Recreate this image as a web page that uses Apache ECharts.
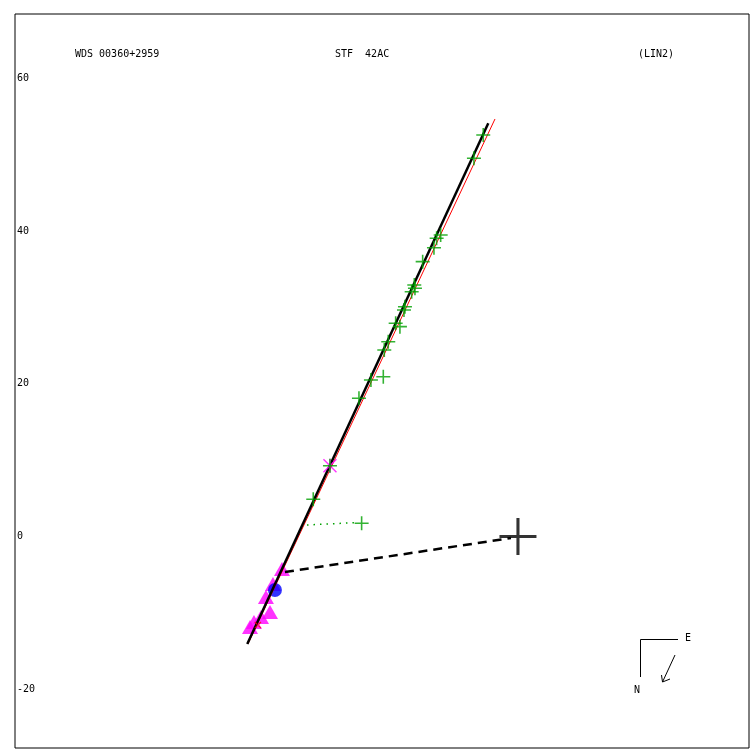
<!DOCTYPE html>
<html><head><meta charset="utf-8">
<script src="https://cdn.jsdelivr.net/npm/echarts@6/dist/echarts.min.js"></script>
<style>html,body{margin:0;padding:0;background:#fff}#c{width:750px;height:750px}</style>
</head><body><div id="c"></div>
<script>
// Axis range (data units)
const xRange = [-65.92, 30.28];
const yRange = [-27.72, 68.48];
const yTicks = [-20, 0, 20, 40, 60];

// Observations (green crosses)
const obsX = [-4.55,-5.77,-10.13,-10.66,-11.01,-12.49,-13.59,-13.50,-13.93,-14.81,-14.94,-16.03,-15.47,-17.00,-17.52,-17.65,-19.27,-20.84,-24.64,-26.83,-20.49];
const obsY = [52.62,49.57,39.52,39.08,37.85,36.02,32.96,32.53,32.08,30.12,29.69,27.94,27.50,25.53,24.44,20.94,20.51,18.11,9.28,4.88,1.73];

// Magenta asterisk
const starX = [-24.64];
const starY = [9.28];

// Magenta triangles
const triX = [-30.93,-32.11,-33.03,-32.50,-33.68,-34.60,-35.12];
const triY = [-4.26,-6.23,-7.93,-9.90,-10.55,-11.21,-11.86];

// Blue circle
const circX = [-31.85];
const circY = [-7.01];

// Small red mark
const redX = [-34.08];
const redY = [-11.60];

// Fitted lines
const blackLineX = [-35.48, -3.89];
const blackLineY = [-14.09, 54.15];
const redLineX = [-35.39, -3.01];
const redLineY = [-14.09, 54.72];

// Dashed link to primary
const dashX = [-30.54, -0.92];
const dashY = [-4.65, -0.20];

// Dotted green link
const dotX = [-27.65, -20.97];
const dotY = [1.51, 1.83];

// Primary
const primX = [0];
const primY = [0];

const zip = (a, b) => a.map((v, i) => [v, b[i]]);
const mono = 'DejaVu Sans Mono';
const GREEN = '#00a000';

const chart = echarts.init(document.getElementById('c'), null, {renderer: 'canvas'});
chart.setOption({
  animation: false,
  backgroundColor: '#fff',
  grid: {left: 15, top: 14, width: 734, height: 734, show: true, borderColor: '#000', borderWidth: 1, backgroundColor: 'transparent'},
  xAxis: {type: 'value', min: xRange[0], max: xRange[1], show: true,
    axisLine: {show: false}, axisTick: {show: false}, axisLabel: {show: false}, splitLine: {show: false}},
  yAxis: {type: 'value', min: yRange[0], max: yRange[1],
    axisLine: {show: false}, axisTick: {show: false}, splitLine: {show: false},
    axisLabel: {show: true, inside: true, margin: 2, customValues: yTicks, color: '#000', fontFamily: mono, fontSize: 10}},
  graphic: [
    {type: 'text', left: 75, top: 49, style: {text: 'WDS 00360+2959', font: '10px ' + mono, fill: '#000'}},
    {type: 'text', left: 335, top: 49, style: {text: 'STF  42AC', font: '10px ' + mono, fill: '#000'}},
    {type: 'text', left: 638, top: 49, style: {text: '(LIN2)', font: '10px ' + mono, fill: '#000'}},
    {type: 'polyline', shape: {points: [[678, 639.5], [640.5, 639.5], [640.5, 677]]}, style: {stroke: '#000', lineWidth: 1, fill: null}},
    {type: 'text', left: 685, top: 633, style: {text: 'E', font: '10px ' + mono, fill: '#000'}},
    {type: 'text', left: 634, top: 685, style: {text: 'N', font: '10px ' + mono, fill: '#000'}},
    {type: 'polyline', shape: {points: [[675, 655], [662.5, 682]]}, style: {stroke: '#000', lineWidth: 1, fill: null}},
    {type: 'polyline', shape: {points: [[661.5, 675], [662.5, 682], [670, 679]]}, style: {stroke: '#000', lineWidth: 1, fill: null}}
  ],
  series: [
    {type: 'scatter', z: 1, data: zip(triX, triY), symbol: 'triangle', symbolSize: [16, 14],
      itemStyle: {color: '#ff00ff'}},
    {type: 'scatter', z: 2, data: zip(circX, circY), symbol: 'circle', symbolSize: 14,
      itemStyle: {color: '#0000ff'}},
    {type: 'line', z: 3, data: zip(redLineX, redLineY), symbol: 'none', lineStyle: {color: '#ff0000', width: 1}},
    {type: 'line', z: 4, data: zip(blackLineX, blackLineY), symbol: 'none', lineStyle: {color: '#000', width: 2.5}},
    {type: 'line', z: 4, data: zip(dashX, dashY), symbol: 'none', lineStyle: {color: '#000', width: 2.5, type: [9, 6]}},
    {type: 'line', z: 4, data: zip(dotX, dotY), symbol: 'none', lineStyle: {color: GREEN, width: 1.5, type: [1.5, 5]}},
    {type: 'scatter', z: 5, data: zip(starX, starY), symbol: 'path://M-7,-6L-6,-7L7,6L6,7Z M7,-6L6,-7L-7,6L-6,7Z M-0.6,-7H0.6V7H-0.6Z',
      symbolSize: 14, itemStyle: {color: '#ff00ff'}},
    {type: 'scatter', z: 6, data: zip(obsX, obsY), symbol: 'path://M-0.8,-7H0.8V7H-0.8Z M-7,-0.8H7V0.8H-7Z',
      symbolSize: 14, itemStyle: {color: GREEN}},
    {type: 'scatter', z: 6, data: zip(redX, redY), symbol: 'path://M-4,-3L-3,-4L4,3L3,4Z M4,-3L3,-4L-4,3L-3,4Z',
      symbolSize: 7, itemStyle: {color: '#ff0000'}},
    {type: 'scatter', z: 6, data: zip(primX, primY), symbol: 'path://M-1.5,-18H1.5V18H-1.5Z M-18,-1.5H18V1.5H-18Z',
      symbolSize: 37, itemStyle: {color: '#000'}}
  ]
});
</script></body></html>
